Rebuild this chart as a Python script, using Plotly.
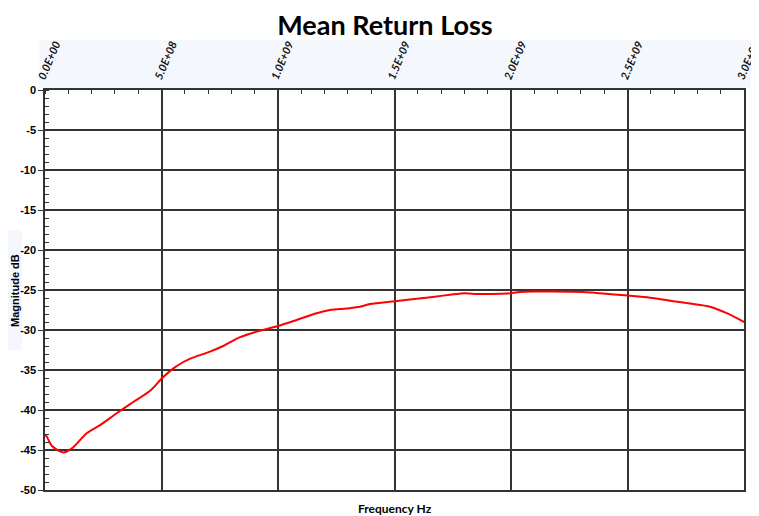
import plotly.graph_objects as go

freq_ghz = [0.000, 0.007, 0.030, 0.079, 0.115, 0.179, 0.236, 0.308, 0.379, 0.451,
            0.503, 0.551, 0.594, 0.622, 0.708, 0.765, 0.837, 0.909, 1.001, 1.080,
            1.166, 1.223, 1.295, 1.352, 1.395, 1.502, 1.595, 1.681, 1.738, 1.803,
            1.853, 1.910, 1.982, 2.039, 2.094, 2.309, 2.382, 2.503, 2.597, 2.697,
            2.768, 2.854, 2.926, 3.000]
mag_db = [-43.1, -43.3, -44.5, -45.3, -44.8, -42.9, -41.9, -40.4, -39.0, -37.6,
          -36.0, -34.8, -34.0, -33.6, -32.7, -32.0, -30.9, -30.2, -29.5, -28.75,
          -27.9, -27.5, -27.3, -27.1, -26.75, -26.4, -26.1, -25.8, -25.6, -25.4,
          -25.5, -25.5, -25.45, -25.25, -25.2, -25.25, -25.4, -25.7, -25.96, -26.4,
          -26.7, -27.1, -27.9, -29.0]
freq_hz = [f * 1e9 for f in freq_ghz]

x_tickvals = [0, 5e8, 1e9, 1.5e9, 2e9, 2.5e9, 3e9]
x_ticktext = ["0.0E+00", "5.0E+08", "1.0E+09", "1.5E+09", "2.0E+09", "2.5E+09", "3.0E+09"]
y_tickvals = [0, -5, -10, -15, -20, -25, -30, -35, -40, -45, -50]
y_ticktext = [str(v) for v in y_tickvals]

fig = go.Figure()
fig.add_trace(go.Scatter(x=freq_hz, y=mag_db, mode="lines",
                         line=dict(color="#ff0000", width=2, shape="spline", smoothing=0.8),
                         hoverinfo="skip", showlegend=False))

grid_col = "#333333"
fig.update_layout(
    width=751, height=508,
    margin=dict(l=37, r=15, t=82, b=26),
    paper_bgcolor="white", plot_bgcolor="white",
    title=dict(text="<b>Mean Return Loss</b>", x=0.502, xanchor="center", y=0.966, yanchor="middle",
               font=dict(family="Lato", size=27, color="black")),
    xaxis=dict(range=[0, 3e9], side="top", tickvals=x_tickvals, ticktext=x_ticktext,
               tickangle=-67, ticklabeloverflow="allow", ticklabelshift=-5,
               tickfont=dict(family="Lato", size=11, color="#111", style="italic", weight="bold"),
               showgrid=True, gridcolor=grid_col, gridwidth=1.5, automargin=False,
               showline=True, linecolor=grid_col, linewidth=1.5, mirror=True,
               ticks="", zeroline=False,
               minor=dict(dtick=1e8, tick0=0, ticks="inside", ticklen=4, tickcolor=grid_col, showgrid=False)),
    yaxis=dict(range=[-50, 0], tickvals=y_tickvals, ticktext=y_ticktext, automargin=False,
               tickfont=dict(family="Arial", size=11, color="black", weight="bold"),
               showgrid=True, gridcolor=grid_col, gridwidth=1.5,
               showline=True, linecolor=grid_col, linewidth=1.5, mirror=True,
               ticks="outside", ticklen=5, tickcolor=grid_col, zeroline=False,
               minor=dict(dtick=1, tick0=0, ticks="inside", ticklen=4, tickcolor=grid_col, showgrid=False)),
    shapes=[
        dict(type="rect", xref="paper", yref="paper", x0=-0.008, x1=1.03, y0=1.005, y1=1.125,
             fillcolor="#f4f7fc", line=dict(width=0), layer="below"),
        dict(type="rect", xref="paper", yref="paper", x0=-0.054, x1=-0.033, y0=0.35, y1=0.65,
             fillcolor="#f4f7fc", line=dict(width=0), layer="below"),
    ],
    annotations=[
        dict(text="<b>Frequency Hz</b>", xref="paper", yref="paper", x=0.5, y=-0.045,
             xanchor="center", yanchor="middle", showarrow=False,
             font=dict(family="Lato", size=12, color="black")),
        dict(text="<b>Magnitude dB</b>", xref="paper", yref="paper", x=-0.043, y=0.5,
             xanchor="center", yanchor="middle", textangle=-90, showarrow=False,
             font=dict(family="Arial", size=11, color="black")),
    ],
)

fig.write_html("out.html")
